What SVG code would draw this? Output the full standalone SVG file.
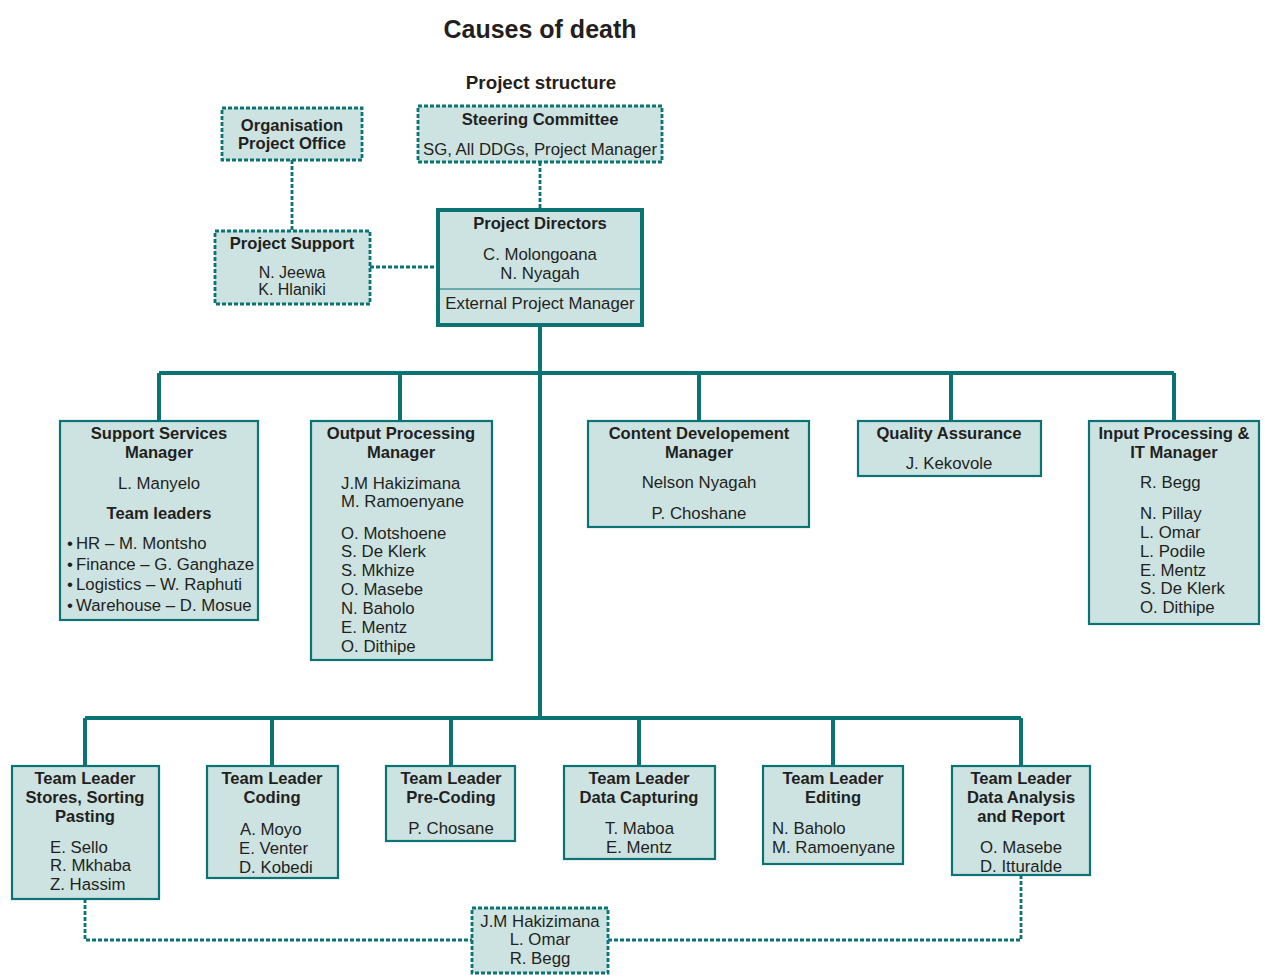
<svg xmlns="http://www.w3.org/2000/svg" width="1265" height="979" viewBox="0 0 1265 979">
<style>
.bg{fill:#ffffff}
.box{fill:#cde3e2;stroke:#0b7373;stroke-width:2.2}
.dbox{fill:#cde3e2;stroke:#0b7373;stroke-width:2.8;stroke-dasharray:4 2}
.tbox{fill:#cde3e2;stroke:#0b7373;stroke-width:4}
.sep{stroke:#0b7373;stroke-width:1.2}
.solid{fill:none;stroke:#0b7373;stroke-width:4}
.dash{fill:none;stroke:#0b7373;stroke-width:2.8;stroke-dasharray:4 2}
text{font-family:"Liberation Sans",Arial,sans-serif;fill:#231f20;font-size:16.8px}
.b{font-weight:bold;font-size:16.6px}
.c{text-anchor:middle}
.title{font-weight:bold;font-size:25px}
.sub{font-weight:bold;font-size:18.8px}
.tight{font-size:16px}
</style>
<rect class="bg" x="0" y="0" width="1265" height="979"/>
<text class="title c" x="540" y="38">Causes of death</text>
<text class="sub c" x="541" y="89">Project structure</text>

<g id="connectors">
<path class="dash" d="M292,160 V231"/>
<path class="dash" d="M540,162 V210"/>
<path class="dash" d="M370,267 H438"/>
<path class="solid" d="M540,325 V718"/>
<path class="solid" d="M159,373 H1174"/>
<path class="solid" d="M159,373 V421 M400,373 V421 M699,373 V421 M951,373 V421 M1174,373 V421"/>
<path class="solid" d="M85,718 H1021"/>
<path class="solid" d="M85,718 V766 M272,718 V766 M451,718 V766 M639,718 V766 M833,718 V766 M1021,718 V766"/>
<path class="dash" d="M85,899 V940 H472"/>
<path class="dash" d="M1021,875 V940 H608"/>
</g>

<g id="org-project-office">
<rect class="dbox" x="222" y="108" width="140" height="52"/>
<text class="b c" x="292" y="131">Organisation</text>
<text class="b c" x="292" y="149">Project Office</text>
</g>

<g id="steering-committee">
<rect class="dbox" x="418" y="106" width="244" height="56"/>
<text class="b c" x="540" y="125">Steering Committee</text>
<text class="c" x="540" y="155">SG, All DDGs, Project Manager</text>
</g>

<g id="project-support">
<rect class="dbox" x="215" y="231" width="155" height="73"/>
<text class="b c" x="292" y="249">Project Support</text>
<text class="c tight" x="292" y="278">N. Jeewa</text>
<text class="c tight" x="292" y="295">K. Hlaniki</text>
</g>

<g id="project-directors">
<rect class="tbox" x="438" y="210" width="204" height="115"/>
<line class="sep" x1="440" y1="289" x2="640" y2="289"/>
<text class="b c" x="540" y="229">Project Directors</text>
<text class="c" x="540" y="260">C. Molongoana</text>
<text class="c" x="540" y="279">N. Nyagah</text>
<text class="c" x="540" y="309">External Project Manager</text>
</g>

<g id="support-services">
<rect class="box" x="60" y="421" width="198" height="199"/>
<text class="b c" x="159" y="439">Support Services</text>
<text class="b c" x="159" y="458">Manager</text>
<text class="c" x="159" y="489">L. Manyelo</text>
<text class="b c" x="159" y="519">Team leaders</text>
<text x="67" y="549">•<tspan x="76">HR – M. Montsho</tspan></text>
<text x="67" y="570">•<tspan x="76">Finance – G. Ganghaze</tspan></text>
<text x="67" y="590">•<tspan x="76">Logistics – W. Raphuti</tspan></text>
<text x="67" y="611">•<tspan x="76">Warehouse – D. Mosue</tspan></text>
</g>

<g id="output-processing">
<rect class="box" x="311" y="421" width="181" height="239"/>
<text class="b c" x="401" y="439">Output Processing</text>
<text class="b c" x="401" y="458">Manager</text>
<text x="341" y="489">J.M Hakizimana</text>
<text x="341" y="507">M. Ramoenyane</text>
<text x="341" y="539">O. Motshoene</text>
<text x="341" y="557">S. De Klerk</text>
<text x="341" y="576">S. Mkhize</text>
<text x="341" y="595">O. Masebe</text>
<text x="341" y="614">N. Baholo</text>
<text x="341" y="633">E. Mentz</text>
<text x="341" y="652">O. Dithipe</text>
</g>

<g id="content-development">
<rect class="box" x="588" y="421" width="221" height="106"/>
<text class="b c" x="699" y="439">Content Developement</text>
<text class="b c" x="699" y="458">Manager</text>
<text class="c" x="699" y="488">Nelson Nyagah</text>
<text class="c" x="699" y="519">P. Choshane</text>
</g>

<g id="quality-assurance">
<rect class="box" x="858" y="421" width="183" height="55"/>
<text class="b c" x="949" y="439">Quality Assurance</text>
<text class="c" x="949" y="469">J. Kekovole</text>
</g>

<g id="input-processing">
<rect class="box" x="1089" y="421" width="170" height="203"/>
<text class="b c" x="1174" y="439">Input Processing &amp;</text>
<text class="b c" x="1174" y="458">IT Manager</text>
<text x="1140" y="488">R. Begg</text>
<text x="1140" y="519">N. Pillay</text>
<text x="1140" y="538">L. Omar</text>
<text x="1140" y="557">L. Podile</text>
<text x="1140" y="576">E. Mentz</text>
<text x="1140" y="594">S. De Klerk</text>
<text x="1140" y="613">O. Dithipe</text>
</g>

<g id="tl-stores">
<rect class="box" x="12" y="766" width="147" height="133"/>
<text class="b c" x="85" y="784">Team Leader</text>
<text class="b c" x="85" y="803">Stores, Sorting</text>
<text class="b c" x="85" y="822">Pasting</text>
<text x="50" y="853">E. Sello</text>
<text x="50" y="871">R. Mkhaba</text>
<text x="50" y="890">Z. Hassim</text>
</g>

<g id="tl-coding">
<rect class="box" x="207" y="766" width="131" height="112"/>
<text class="b c" x="272" y="784">Team Leader</text>
<text class="b c" x="272" y="803">Coding</text>
<text x="240" y="835">A. Moyo</text>
<text x="239" y="854">E. Venter</text>
<text x="239" y="873">D. Kobedi</text>
</g>

<g id="tl-precoding">
<rect class="box" x="386" y="766" width="129" height="75"/>
<text class="b c" x="451" y="784">Team Leader</text>
<text class="b c" x="451" y="803">Pre-Coding</text>
<text class="c" x="451" y="834">P. Chosane</text>
</g>

<g id="tl-datacapturing">
<rect class="box" x="564" y="766" width="151" height="93"/>
<text class="b c" x="639" y="784">Team Leader</text>
<text class="b c" x="639" y="803">Data Capturing</text>
<text x="605" y="834">T. Maboa</text>
<text x="606" y="853">E. Mentz</text>
</g>

<g id="tl-editing">
<rect class="box" x="763" y="766" width="140" height="98"/>
<text class="b c" x="833" y="784">Team Leader</text>
<text class="b c" x="833" y="803">Editing</text>
<text x="772" y="834">N. Baholo</text>
<text x="772" y="853">M. Ramoenyane</text>
</g>

<g id="tl-dataanalysis">
<rect class="box" x="952" y="766" width="138" height="109"/>
<text class="b c" x="1021" y="784">Team Leader</text>
<text class="b c" x="1021" y="803">Data Analysis</text>
<text class="b c" x="1021" y="822">and Report</text>
<text class="c" x="1021" y="853">O. Masebe</text>
<text class="c" x="1021" y="872">D. Itturalde</text>
</g>

<g id="support-team">
<rect class="dbox" x="472" y="908" width="136" height="65"/>
<text class="c" x="540" y="927">J.M Hakizimana</text>
<text class="c" x="540" y="945">L. Omar</text>
<text class="c" x="540" y="964">R. Begg</text>
</g>
</svg>
